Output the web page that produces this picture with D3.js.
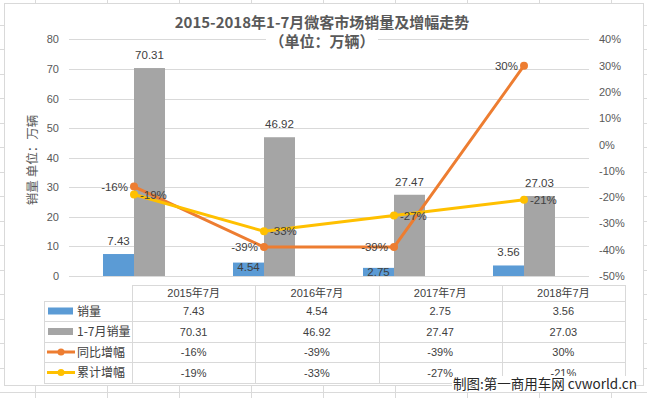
<!DOCTYPE html>
<html>
<head>
<meta charset="utf-8">
<script src="https://cdn.jsdelivr.net/npm/d3@7"></script>
<style>
  body { margin: 0; background: #fff; }
  svg { display: block; }
</style>
</head>
<body>
<div id="chart"></div>
<script>
const categories = ['2015年7月', '2016年7月', '2017年7月', '2018年7月'];
const sales = [7.43, 4.54, 2.75, 3.56];
const salesYtd = [70.31, 46.92, 27.47, 27.03];
const yoyGrowth = [-16, -39, -39, 30];
const ytdGrowth = [-19, -33, -27, -21];
const leftTicks = [0, 10, 20, 30, 40, 50, 60, 70, 80];
const rightTicks = [-50, -40, -30, -20, -10, 0, 10, 20, 30, 40];
const seriesNames = ['销量', '1-7月销量', '同比增幅', '累计增幅'];

const width = 647, height = 398;
const font = '"Liberation Sans", "Noto Sans CJK SC", sans-serif';
const cjkFont = '"Noto Sans CJK SC", "Liberation Sans", sans-serif';
const textColor = '#404040';
const axisColor = '#595959';
const colors = { sales: '#5b9bd5', ytd: '#a5a5a5', yoy: '#ed7d31', growth: '#ffc000' };

const svg = d3.select('#chart')
  .append('svg')
  .attr('width', width)
  .attr('height', height)
  .style('font-family', font);

// spreadsheet cells behind the chart
const sheet = svg.append('g').attr('stroke', '#dadada').attr('stroke-width', 1);
d3.range(35, width, 72).forEach(x => {
  sheet.append('line').attr('x1', x + 0.5).attr('x2', x + 0.5).attr('y1', 0).attr('y2', height);
});
d3.range(24.5, height, 24.5).forEach(y => {
  sheet.append('line').attr('x1', 0).attr('x2', width).attr('y1', Math.round(y) + 0.5).attr('y2', Math.round(y) + 0.5);
});

// chart area
svg.append('rect')
  .attr('x', 4.5).attr('y', 3.5)
  .attr('width', 639).attr('height', 382)
  .attr('fill', '#fff')
  .attr('stroke', '#d9d9d9');

const x0 = d3.scaleBand()
  .domain(categories)
  .range([69, 589])
  .paddingInner(0.523)
  .paddingOuter(0.2615);

const x1 = d3.scaleBand()
  .domain(['sales', 'ytd'])
  .range([0, x0.bandwidth()]);

const yL = d3.scaleLinear().domain([0, 80]).range([276, 39.4]);
const yR = d3.scaleLinear().domain([-50, 40]).range([276, 39.4]);
const cx = c => x0(c) + x0.bandwidth() / 2;

// gridlines
svg.append('g')
  .selectAll('line')
  .data(leftTicks)
  .join('line')
  .attr('x1', 69).attr('x2', 589)
  .attr('y1', d => Math.round(yL(d)) + 0.5)
  .attr('y2', d => Math.round(yL(d)) + 0.5)
  .attr('stroke', '#d9d9d9');

// left axis
svg.append('g')
  .attr('transform', 'translate(59,0)')
  .call(d3.axisLeft(yL).tickValues(leftTicks).tickSize(0).tickPadding(0))
  .call(g => g.select('.domain').remove())
  .call(g => g.selectAll('text')
    .attr('fill', axisColor)
    .style('font-size', '11px')
    .style('font-family', font));

// right axis
svg.append('g')
  .attr('transform', 'translate(599,0)')
  .call(d3.axisRight(yR).tickValues(rightTicks).tickSize(0).tickPadding(0).tickFormat(d => d + '%'))
  .call(g => g.select('.domain').remove())
  .call(g => g.selectAll('text')
    .attr('fill', axisColor)
    .style('font-size', '11px')
    .style('font-family', font));

// y axis title
svg.append('text')
  .attr('transform', 'translate(37,160) rotate(-90)')
  .attr('text-anchor', 'middle')
  .attr('fill', axisColor)
  .style('font-family', cjkFont)
  .style('font-size', '12.5px')
  .text('销量 单位：万辆');

// bars
const barGroups = svg.append('g')
  .selectAll('g')
  .data(categories)
  .join('g')
  .attr('transform', d => `translate(${x0(d)},0)`);

barGroups.append('rect')
  .attr('x', x1('sales'))
  .attr('y', (d, i) => yL(sales[i]))
  .attr('width', x1.bandwidth())
  .attr('height', (d, i) => yL(0) - yL(sales[i]))
  .attr('fill', colors.sales);

barGroups.append('rect')
  .attr('x', x1('ytd'))
  .attr('y', (d, i) => yL(salesYtd[i]))
  .attr('width', x1.bandwidth())
  .attr('height', (d, i) => yL(0) - yL(salesYtd[i]))
  .attr('fill', colors.ytd);

// bar labels (two of the sales labels sit lower, over the bar top)
const salesLabelBelow = [false, true, true, false];
barGroups.append('text')
  .attr('x', x1('sales') + x1.bandwidth() / 2)
  .attr('y', (d, i) => yL(sales[i]) + (salesLabelBelow[i] ? 8.5 : -9))
  .attr('text-anchor', 'middle')
  .attr('fill', textColor)
  .style('font-size', '11.5px')
  .text((d, i) => sales[i].toFixed(2));

barGroups.append('text')
  .attr('x', x1('ytd') + x1.bandwidth() / 2)
  .attr('y', (d, i) => yL(salesYtd[i]) - 9)
  .attr('text-anchor', 'middle')
  .attr('fill', textColor)
  .style('font-size', '11.5px')
  .text((d, i) => salesYtd[i].toFixed(2));

// lines
const line = d3.line()
  .x(d => cx(d.c))
  .y(d => yR(d.v));

const drawSeries = (values, color, side) => {
  const pts = categories.map((c, i) => ({ c, v: values[i] }));
  svg.append('path')
    .datum(pts)
    .attr('fill', 'none')
    .attr('stroke', color)
    .attr('stroke-width', 3)
    .attr('stroke-linejoin', 'round')
    .attr('d', line);
  svg.append('g')
    .selectAll('circle')
    .data(pts)
    .join('circle')
    .attr('cx', d => cx(d.c))
    .attr('cy', d => yR(d.v))
    .attr('r', 4)
    .attr('fill', color);
  svg.append('g')
    .selectAll('text')
    .data(pts)
    .join('text')
    .attr('x', d => cx(d.c) + (side === 'left' ? -6 : 6))
    .attr('y', d => yR(d.v) + 4)
    .attr('text-anchor', side === 'left' ? 'end' : 'start')
    .attr('fill', textColor)
    .style('font-size', '11.5px')
    .text(d => d.v + '%');
};

drawSeries(yoyGrowth, colors.yoy, 'left');
drawSeries(ytdGrowth, colors.growth, 'right');

// title
const title = svg.append('g')
  .attr('text-anchor', 'middle')
  .attr('fill', axisColor)
  .style('font-family', cjkFont)
  .style('font-weight', 'bold')
  .style('font-size', '15px');
title.append('text').attr('x', 322).attr('y', 28).text('2015-2018年1-7月微客市场销量及增幅走势');
title.append('rect').attr('x', 266).attr('y', 31).attr('width', 112).attr('height', 19).attr('fill', '#fff');
title.append('text').attr('x', 322).attr('y', 47).text('（单位：万辆）');

// data table
const tx = d3.scaleBand().domain(categories).range([132, 625]);
const rowY = [285, 301, 321, 342, 362, 383];
const tableRows = [
  { name: seriesNames[0], values: sales.map(v => v.toFixed(2)), color: colors.sales, kind: 'bar' },
  { name: seriesNames[1], values: salesYtd.map(v => v.toFixed(2)), color: colors.ytd, kind: 'bar' },
  { name: seriesNames[2], values: yoyGrowth.map(v => v + '%'), color: colors.yoy, kind: 'line' },
  { name: seriesNames[3], values: ytdGrowth.map(v => v + '%'), color: colors.growth, kind: 'line' }
];

const table = svg.append('g').attr('stroke', '#d9d9d9').attr('shape-rendering', 'crispEdges');
table.append('line').attr('x1', 132).attr('x2', 625).attr('y1', rowY[0] + 0.5).attr('y2', rowY[0] + 0.5);
rowY.slice(1).forEach(y => {
  table.append('line').attr('x1', 44).attr('x2', 625).attr('y1', y + 0.5).attr('y2', y + 0.5);
});
table.append('line').attr('x1', 44.5).attr('x2', 44.5).attr('y1', rowY[1]).attr('y2', rowY[5]);
[132, ...categories.map(c => tx(c) + tx.bandwidth())].forEach(x => {
  table.append('line').attr('x1', Math.round(x) + 0.5).attr('x2', Math.round(x) + 0.5).attr('y1', rowY[0]).attr('y2', rowY[5]);
});

svg.append('g')
  .selectAll('text')
  .data(categories)
  .join('text')
  .attr('x', d => tx(d) + tx.bandwidth() / 2)
  .attr('y', (rowY[0] + rowY[1]) / 2 + 4)
  .attr('text-anchor', 'middle')
  .attr('fill', textColor)
  .style('font-size', '11px')
  .text(d => d);

tableRows.forEach((row, r) => {
  const yc = (rowY[r + 1] + rowY[r + 2]) / 2;
  if (row.kind === 'bar') {
    svg.append('rect').attr('x', 48).attr('y', yc - 3.5).attr('width', 25).attr('height', 7).attr('fill', row.color);
  } else {
    svg.append('line').attr('x1', 47).attr('x2', 75).attr('y1', yc).attr('y2', yc)
      .attr('stroke', row.color).attr('stroke-width', 3);
    svg.append('circle').attr('cx', 61).attr('cy', yc).attr('r', 3.5).attr('fill', row.color);
  }
  svg.append('text')
    .attr('x', 77).attr('y', yc + 4.5)
    .attr('fill', textColor)
    .style('font-family', cjkFont)
    .style('font-size', '12px')
    .text(row.name);
  svg.append('g')
    .selectAll('text')
    .data(row.values)
    .join('text')
    .attr('x', (d, i) => tx(categories[i]) + tx.bandwidth() / 2)
    .attr('y', yc + 4)
    .attr('text-anchor', 'middle')
    .attr('fill', textColor)
    .style('font-size', '11px')
    .text(d => d);
});

// credit
svg.append('rect').attr('x', 452).attr('y', 376).attr('width', 183).attr('height', 16).attr('fill', '#fff');
svg.append('text')
  .attr('x', 453).attr('y', 389)
  .attr('fill', '#262626')
  .style('font-family', cjkFont)
  .style('font-size', '13.5px')
  .text('制图:第一商用车网 cvworld.cn');
</script>
</body>
</html>
